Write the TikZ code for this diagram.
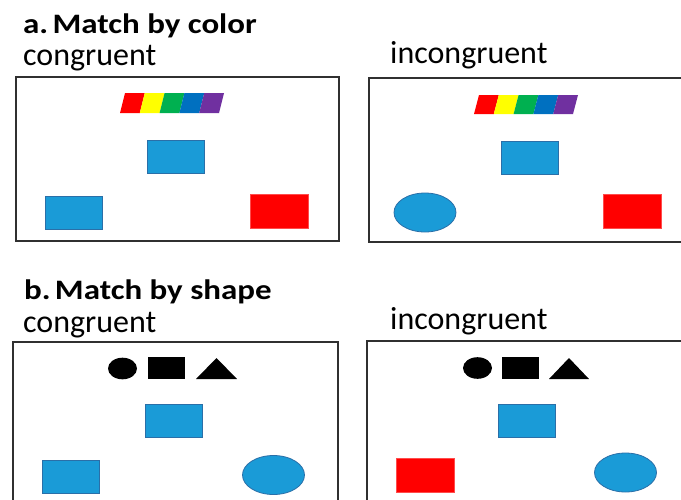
\documentclass[tikz,border=0pt]{standalone}
\usepackage{fontspec}
\setmainfont{Carlito}
\usetikzlibrary{shapes.geometric}
\definecolor{blueF}{HTML}{1A9BD7}
\definecolor{blueD}{HTML}{2A6FA8}
\definecolor{rainR}{HTML}{FF0000}
\definecolor{rainY}{HTML}{FFFF00}
\definecolor{rainG}{HTML}{00B050}
\definecolor{rainB}{HTML}{0070C0}
\definecolor{rainP}{HTML}{7030A0}
\definecolor{frameC}{HTML}{303030}
\tikzset{
  x=1pt, y=-1pt,
  panel/.style={draw=frameC, line width=1.4pt},
  bluerect/.style={rectangle, fill=blueF, draw=blueD, line width=0.8pt, minimum width=57pt, minimum height=33pt, inner sep=0pt},
  redrect/.style={rectangle, fill=rainR, draw=rainR!70!white, line width=0.5pt, minimum width=58pt, minimum height=34pt, inner sep=0pt},
  blueell/.style={ellipse, fill=blueF, draw=blueD, line width=0.8pt, minimum width=62pt, minimum height=39pt, inner sep=0pt},
  titletext/.style={anchor=base west, inner sep=0pt, font=\fontsize{32}{36}\selectfont\bfseries},
  subtext/.style={anchor=base west, inner sep=0pt, font=\fontsize{32}{36}\selectfont},
}
\newcommand{\rainbow}[3]{% x0 (bottom-left), ytop, ybottom
  \foreach \c [count=\i from 0] in {rainR,rainY,rainG,rainB,rainP}{
    \fill[\c] ({#1+\i*19.8},#3) -- ({#1+5+\i*19.8},#2) -- ({#1+5+(\i+1)*19.8},#2) -- ({#1+(\i+1)*19.8},#3) -- cycle;
  }}
\begin{document}
\begin{tikzpicture}
\useasboundingbox (0,0) rectangle (681,499);
\clip (0,0) rectangle (681,499);
\fill[white] (0,0) rectangle (681,499);
% ---- panel a ----
\node[titletext] (ta) at (23,33) {\scalebox{1.03}[0.88]{a.\hspace{0.13em}Match by color}};
\node[subtext] (ca) at (23,65) {congruent};
\node[subtext] (ia) at (390,63) {incongruent};
\draw[panel] (16,77) rectangle (339,241);
\draw[panel] (369,78) rectangle (690,242);
\rainbow{120}{93}{113}
\rainbow{474}{95}{114}
\node[bluerect] (a1c) at (175.5,156.5) {};
\node[bluerect] (a1l) at (73.5,213) {};
\node[redrect] (a1r) at (279,211) {};
\node[bluerect] (a2c) at (529.5,157.5) {};
\node[blueell] (a2l) at (425,212.5) {};
\node[redrect] (a2r) at (632,211) {};
% ---- panel b ----
\node[titletext] (tb) at (24,299) {\scalebox{1.03}[0.88]{b.\hspace{0.13em}Match by shape}};
\node[subtext] (cb) at (23,332) {congruent};
\node[subtext] (ib) at (390,329) {incongruent};
\draw[panel] (13,342) rectangle (338,520);
\draw[panel] (367,341) rectangle (690,520);
% black shapes left
\fill[black] (122.5,368.5) ellipse [x radius=14.5, y radius=10.8];
\fill[black] (148,357) rectangle (185,379);
\fill[black] (196,379) -- (216.5,358) -- (237,379) -- cycle;
% black shapes right
\fill[black] (477.5,368) ellipse [x radius=14.5, y radius=10.8];
\fill[black] (502,357) rectangle (539,379);
\fill[black] (549,379) -- (569,358) -- (589,379) -- cycle;
\node[bluerect] (b1c) at (173.5,421) {};
\node[bluerect] (b1l) at (71,477) {};
\node[blueell] (b1r) at (273.5,475) {};
\node[bluerect] (b2c) at (527,421) {};
\node[redrect] (b2l) at (425,475) {};
\node[blueell] (b2r) at (625.5,472.5) {};
\end{tikzpicture}
\end{document}
